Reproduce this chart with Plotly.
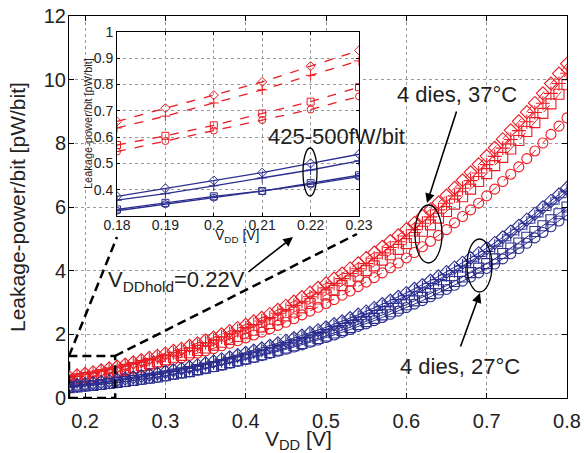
import plotly.graph_objects as go

# Supply voltage sweep (V), 10 mV steps
vdd = [round(0.18 + 0.01 * i, 2) for i in range(63)]

# Leakage power per bit (pW/bit), 37 degC dies
hot_die1 = [0.66, 0.71, 0.76, 0.81, 0.87, 0.93, 0.99, 1.05, 1.12, 1.19, 1.26, 1.33, 1.40,
            1.48, 1.55, 1.64, 1.72, 1.81, 1.90, 2.00, 2.10, 2.20, 2.30,
            2.41, 2.52, 2.64, 2.77, 2.90, 3.03, 3.17, 3.31, 3.46, 3.60,
            3.75, 3.91, 4.07, 4.23, 4.40, 4.57, 4.75, 4.93, 5.11, 5.30,
            5.50, 5.71, 5.92, 6.14, 6.36, 6.60, 6.84, 7.09, 7.34, 7.60,
            7.86, 8.13, 8.41, 8.69, 8.98, 9.27, 9.57, 9.88, 10.19, 10.50]
hot_die2 = [0.635, 0.68, 0.73, 0.78, 0.835, 0.89, 0.95, 1.01, 1.08, 1.14, 1.21, 1.28, 1.34,
            1.42, 1.49, 1.57, 1.65, 1.74, 1.82, 1.92, 2.02, 2.11, 2.21,
            2.31, 2.42, 2.53, 2.66, 2.78, 2.91, 3.04, 3.18, 3.32, 3.46,
            3.60, 3.75, 3.91, 4.06, 4.22, 4.39, 4.56, 4.73, 4.91, 5.09,
            5.29, 5.49, 5.69, 5.91, 6.12, 6.35, 6.59, 6.83, 7.07, 7.33,
            7.59, 7.85, 8.12, 8.40, 8.68, 8.97, 9.26, 9.57, 9.88, 10.20]
hot_die3 = [0.57, 0.605, 0.645, 0.69, 0.735, 0.79, 0.84, 0.90, 0.96, 1.02, 1.08, 1.14, 1.20,
            1.28, 1.34, 1.42, 1.49, 1.57, 1.66, 1.75, 1.84, 1.93, 2.02,
            2.13, 2.23, 2.34, 2.46, 2.58, 2.70, 2.83, 2.97, 3.11, 3.24,
            3.38, 3.53, 3.68, 3.83, 4.00, 4.15, 4.33, 4.50, 4.67, 4.85,
            5.04, 5.24, 5.44, 5.65, 5.86, 6.09, 6.32, 6.56, 6.80, 7.05,
            7.30, 7.56, 7.82, 8.09, 8.37, 8.65, 8.94, 9.24, 9.54, 9.84]
hot_die4 = [0.545, 0.585, 0.625, 0.665, 0.705, 0.755, 0.80, 0.85, 0.91, 0.97, 1.03, 1.08, 1.14,
            1.21, 1.26, 1.34, 1.41, 1.48, 1.55, 1.64, 1.72, 1.80, 1.89,
            1.98, 2.07, 2.17, 2.28, 2.38, 2.49, 2.61, 2.73, 2.85, 2.97,
            3.09, 3.23, 3.36, 3.50, 3.64, 3.78, 3.93, 4.09, 4.24, 4.40,
            4.57, 4.75, 4.92, 5.11, 5.29, 5.50, 5.70, 5.91, 6.12, 6.35,
            6.56, 6.80, 7.03, 7.26, 7.52, 7.76, 8.01, 8.28, 8.54, 8.80]

# Leakage power per bit (pW/bit), 27 degC dies
cool_die1 = [0.375, 0.405, 0.435, 0.465, 0.50, 0.535, 0.57, 0.61, 0.65, 0.69, 0.73, 0.77, 0.82,
             0.87, 0.92, 0.97, 1.03, 1.09, 1.15, 1.22, 1.28, 1.35, 1.42,
             1.49, 1.56, 1.64, 1.72, 1.80, 1.88, 1.96, 2.05, 2.13, 2.22,
             2.32, 2.41, 2.51, 2.62, 2.72, 2.83, 2.95, 3.06, 3.18, 3.30,
             3.43, 3.55, 3.69, 3.82, 3.96, 4.10, 4.25, 4.40, 4.55, 4.70,
             4.87, 5.05, 5.23, 5.41, 5.60, 5.79, 5.99, 6.19, 6.39, 6.60]
cool_die2 = [0.36, 0.385, 0.415, 0.445, 0.475, 0.51, 0.54, 0.58, 0.62, 0.66, 0.70, 0.74, 0.79,
             0.83, 0.88, 0.93, 0.99, 1.05, 1.11, 1.17, 1.23, 1.30, 1.37,
             1.44, 1.50, 1.58, 1.66, 1.74, 1.82, 1.90, 1.98, 2.06, 2.15,
             2.25, 2.34, 2.43, 2.54, 2.64, 2.75, 2.87, 2.97, 3.09, 3.21,
             3.34, 3.46, 3.60, 3.72, 3.87, 4.00, 4.15, 4.30, 4.45, 4.60,
             4.77, 4.94, 5.13, 5.30, 5.49, 5.69, 5.89, 6.09, 6.29, 6.50]
cool_die3 = [0.325, 0.35, 0.375, 0.395, 0.425, 0.455, 0.49, 0.52, 0.55, 0.59, 0.62, 0.66, 0.70,
             0.75, 0.79, 0.83, 0.89, 0.94, 0.99, 1.05, 1.11, 1.17, 1.23,
             1.29, 1.36, 1.43, 1.50, 1.57, 1.64, 1.71, 1.79, 1.87, 1.95,
             2.04, 2.12, 2.21, 2.31, 2.40, 2.50, 2.61, 2.71, 2.82, 2.93,
             3.05, 3.16, 3.28, 3.40, 3.53, 3.66, 3.80, 3.94, 4.08, 4.22,
             4.37, 4.54, 4.71, 4.87, 5.05, 5.23, 5.41, 5.60, 5.79, 6.00]
cool_die4 = [0.32, 0.345, 0.37, 0.395, 0.42, 0.45, 0.48, 0.51, 0.55, 0.58, 0.62, 0.65, 0.69,
             0.74, 0.78, 0.82, 0.87, 0.92, 0.98, 1.03, 1.09, 1.15, 1.21,
             1.27, 1.33, 1.40, 1.47, 1.53, 1.60, 1.67, 1.75, 1.82, 1.90,
             1.98, 2.06, 2.15, 2.25, 2.33, 2.43, 2.53, 2.63, 2.73, 2.84,
             2.95, 3.06, 3.18, 3.29, 3.41, 3.54, 3.67, 3.80, 3.93, 4.07,
             4.21, 4.37, 4.53, 4.69, 4.86, 5.03, 5.20, 5.38, 5.56, 5.75]

hot_series = [hot_die1, hot_die2, hot_die3, hot_die4]
cool_series = [cool_die1, cool_die2, cool_die3, cool_die4]
symbols = ["diamond-open", "cross-thin-open", "square-open", "circle-open"]

x_ticks = [0.2, 0.3, 0.4, 0.5, 0.6, 0.7, 0.8]
y_ticks = [0, 2, 4, 6, 8, 10, 12]
inset_x_ticks = [0.18, 0.19, 0.2, 0.21, 0.22, 0.23]
inset_x_text = ["0.18", "0.19", "0.2", "0.21", "0.22", "0.23"]
inset_y_ticks = [0.4, 0.5, 0.6, 0.7, 0.8, 0.9, 1.0]
inset_y_text = ["0.4", "0.5", "0.6", "0.7", "0.8", "0.9", "1"]
n_inset = 6  # 0.18 .. 0.23 V

RED = "#ec1c24"
BLUE = "#2b2e8f"
FONT = "Liberation Sans, Arial, sans-serif"
DASH = "9px,5px"

# pixel geometry of the main plotting area
W, H = 584, 453
L, R, T, B = 69, 567, 16, 398


def px(x):
    return (x - L) / (R - L)


def py(y):
    return (B - y) / (B - T)


fig = go.Figure()

# main plot
for series, color, dash in ((hot_series, RED, "dash"), (cool_series, BLUE, "solid")):
    for vals, sym in zip(series, symbols):
        fig.add_trace(go.Scatter(
            x=vdd, y=vals, mode="lines+markers",
            line=dict(color=color, width=1, dash=dash),
            marker=dict(symbol=sym, size=10, color=color, line=dict(color=color, width=1.1)),
            showlegend=False, xaxis="x", yaxis="y"))

# zoomed inset
for series, color, dash in ((hot_series, RED, "dash"), (cool_series, BLUE, "solid")):
    for vals, sym in zip(series, symbols):
        fig.add_trace(go.Scatter(
            x=vdd[:n_inset], y=vals[:n_inset], mode="lines+markers",
            line=dict(color=color, width=1.3, dash=dash),
            marker=dict(symbol=sym, size=7, color=color, line=dict(color=color, width=1)),
            showlegend=False, xaxis="x2", yaxis="y2"))

grid = dict(showgrid=True, gridcolor="#9a9a9a", griddash="dot", gridwidth=1,
            showline=True, linecolor="black", linewidth=1, mirror="ticks",
            ticks="inside", tickcolor="black", zeroline=False, automargin=False)

ix0, ix1 = px(117), px(359)
iy0, iy1 = py(216), py(32)

fig.update_layout(
    width=W, height=H,
    margin=dict(l=L, r=W - R, t=T, b=H - B, autoexpand=False),
    paper_bgcolor="white", plot_bgcolor="white",
    font=dict(family=FONT, color="black"),
    xaxis=dict(range=[0.18, 0.8], tickvals=x_ticks, ticktext=[str(v) for v in x_ticks],
               ticklen=5, tickfont=dict(size=20, color="#222"), ticklabelstandoff=5,
               domain=[0, 1], **grid),
    yaxis=dict(range=[0, 12], tickvals=y_ticks, ticklen=5, tickfont=dict(size=20, color="#222"),
               ticklabelstandoff=-2, domain=[0, 1], **grid),
    xaxis2=dict(range=[0.18, 0.23], tickvals=inset_x_ticks, ticktext=inset_x_text,
                ticklen=3, tickfont=dict(size=14, color="#222"), ticklabelstandoff=-4,
                domain=[ix0, ix1], anchor="y2", **grid),
    yaxis2=dict(range=[0.3, 1.0], tickvals=inset_y_ticks, ticktext=inset_y_text,
                ticklen=3, tickfont=dict(size=14, color="#222"), domain=[iy0, iy1],
                anchor="x2", **grid),
)

shapes = []
# white panel behind the inset, above the main grid
shapes.append(dict(type="rect", xref="paper", yref="paper", x0=ix0, x1=ix1, y0=iy0, y1=iy1,
                   fillcolor="white", line=dict(width=0), layer="between"))
# zoom window on the main axes
shapes.append(dict(type="rect", xref="x", yref="y", x0=0.18, x1=0.2375, y0=0, y1=1.32,
                   line=dict(color="black", width=2.5, dash=DASH), layer="above"))
# connector lines from the zoom window to the inset
shapes.append(dict(type="line", xref="paper", yref="paper", x0=px(69), y0=py(356),
                   x1=px(117), y1=py(237), line=dict(color="black", width=2.5, dash=DASH)))
shapes.append(dict(type="line", xref="paper", yref="paper", x0=px(115), y0=py(356),
                   x1=px(357), y1=py(234), line=dict(color="black", width=2.5, dash=DASH)))
# grouping ellipses
for (a, b, c, d) in ((415, 205, 442, 263), (467, 239, 492, 292), (303, 148, 317, 196)):
    shapes.append(dict(type="circle", xref="paper", yref="paper", x0=px(a), x1=px(c),
                       y0=py(d), y1=py(b), line=dict(color="black", width=1.3)))
fig.update_layout(shapes=shapes)


def note(text, x, y, size, **kw):
    fig.add_annotation(text=text, xref="paper", yref="paper", x=px(x), y=py(y),
                       xanchor="center", yanchor="middle",
                       showarrow=False, font=dict(size=size, family=FONT, color="#222"), **kw)


def arrow(x_tail, y_tail, x_head, y_head):
    fig.add_annotation(text="", xref="paper", yref="paper", x=px(x_head), y=py(y_head),
                       axref="pixel", ayref="pixel", ax=x_tail - x_head, ay=y_tail - y_head,
                       showarrow=True, arrowhead=2, arrowsize=1.2, arrowwidth=1.6,
                       arrowcolor="black")


# axis titles
note("Leakage-power/bit [pW/bit]", 17, 207, 21, textangle=-90)
note("V<sub>DD</sub> [V]", 298, 440, 21)
note("Leakage-power/bit [pW/bit]", 88, 124, 11, textangle=-90)
note("V<sub>DD</sub> [V]", 237, 236, 14)

# callouts
note("4 dies, 37°C", 457, 94, 22)
arrow(457, 110, 427, 203)
note("4 dies, 27°C", 460, 366, 22)
arrow(460, 348, 480, 293)
note("425-500fW/bit", 336, 136, 22)
note("V<sub>DDhold</sub>=0.22V", 176, 281, 22)
arrow(247, 273, 293, 237)

fig.write_html("out.html")
